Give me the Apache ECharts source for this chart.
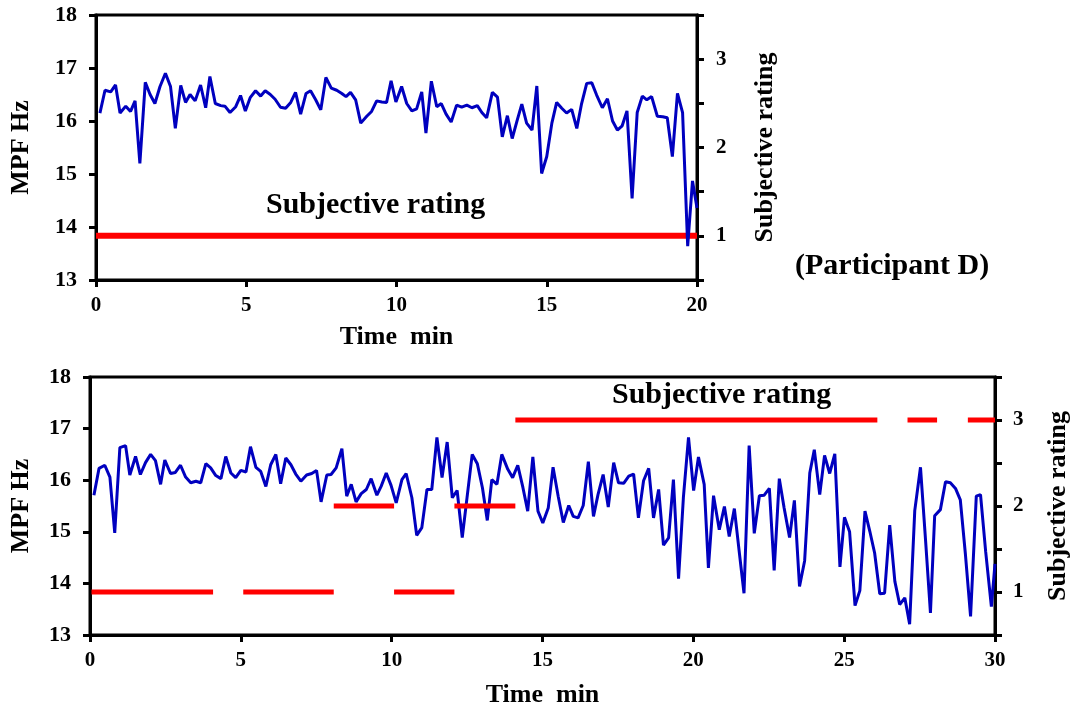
<!DOCTYPE html>
<html>
<head>
<meta charset="utf-8">
<script src="https://cdn.jsdelivr.net/npm/echarts@6/dist/echarts.min.js"></script>
<style>
html,body{margin:0;padding:0;background:#fff;}
#chart{width:1071px;height:713px;}
</style>
</head>
<body>
<div id="chart"></div>
<script>
// ---- Data ----
const topTime = [0.13,0.3,0.49,0.65,0.8,0.99,1.15,1.3,1.46,1.64,
1.8,1.96,2.13,2.31,2.48,2.64,2.82,2.98,3.13,3.3,
3.48,3.65,3.79,3.97,4.15,4.29,4.46,4.65,4.81,4.97,
5.13,5.31,5.48,5.63,5.8,5.96,6.14,6.31,6.48,6.64,
6.81,6.99,7.14,7.31,7.48,7.65,7.83,8.01,8.18,8.32,
8.47,8.64,8.81,9.01,9.17,9.34,9.51,9.67,9.82,9.98,
10.17,10.34,10.51,10.67,10.84,10.98,11.16,11.34,11.49,11.65,
11.82,12.0,12.17,12.34,12.51,12.69,12.84,13.0,13.19,13.36,
13.52,13.69,13.85,14.02,14.17,14.33,14.51,14.67,14.83,15.0,
15.17,15.33,15.5,15.66,15.83,16.0,16.16,16.33,16.5,16.66,
16.85,17.02,17.19,17.35,17.51,17.67,17.84,18.01,18.18,18.33,
18.49,18.68,18.86,19.01,19.18,19.35,19.52,19.69,19.85,20.0];
const topMPF = [16.15,16.58,16.55,16.68,16.15,16.28,16.18,16.38,15.2,16.73,
16.5,16.33,16.65,16.9,16.65,15.86,16.67,16.35,16.5,16.38,
16.68,16.25,16.84,16.33,16.29,16.28,16.16,16.27,16.48,16.19,
16.44,16.57,16.47,16.57,16.5,16.41,16.26,16.24,16.35,16.54,
16.13,16.52,16.57,16.4,16.21,16.82,16.62,16.58,16.52,16.46,
16.54,16.4,15.96,16.09,16.18,16.38,16.36,16.35,16.76,16.36,
16.65,16.33,16.19,16.23,16.55,15.77,16.75,16.27,16.33,16.13,
15.98,16.3,16.26,16.3,16.25,16.29,16.16,16.06,16.54,16.45,
15.7,16.1,15.67,16.02,16.32,15.96,15.83,16.66,15.01,15.33,
15.96,16.35,16.24,16.15,16.22,15.86,16.33,16.71,16.72,16.49,
16.25,16.42,16.0,15.83,15.91,16.19,14.54,16.16,16.47,16.4,
16.46,16.09,16.08,16.06,15.33,16.52,16.16,13.64,14.87,14.36];

const bottomTime = [0.13,0.3,0.49,0.66,0.82,0.99,1.18,1.32,1.51,1.67,
1.84,2.01,2.17,2.34,2.48,2.67,2.83,3.0,3.17,3.34,
3.51,3.67,3.84,4.0,4.17,4.34,4.5,4.67,4.83,5.0,
5.17,5.32,5.5,5.66,5.83,5.99,6.16,6.32,6.49,6.66,
6.82,6.99,7.18,7.35,7.51,7.66,7.85,7.99,8.16,8.35,
8.51,8.66,8.82,8.99,9.16,9.32,9.51,9.65,9.82,9.98,
10.15,10.34,10.48,10.67,10.83,11.0,11.17,11.33,11.5,11.67,
11.84,12.01,12.17,12.34,12.51,12.67,12.84,13.01,13.17,13.32,
13.49,13.65,13.85,14.01,14.18,14.35,14.51,14.68,14.85,15.01,
15.19,15.35,15.52,15.69,15.87,16.02,16.18,16.35,16.52,16.69,
16.84,17.01,17.18,17.36,17.52,17.69,17.86,18.02,18.18,18.35,
18.52,18.68,18.85,19.01,19.18,19.34,19.51,19.67,19.84,20.01,
20.17,20.36,20.5,20.67,20.86,21.03,21.19,21.36,21.52,21.68,
21.85,22.02,22.19,22.35,22.52,22.68,22.85,23.01,23.19,23.35,
23.52,23.69,23.86,24.01,24.19,24.35,24.52,24.69,24.86,25.01,
25.18,25.36,25.52,25.69,25.85,26.01,26.18,26.34,26.51,26.68,
26.84,27.01,27.17,27.34,27.53,27.7,27.86,28.0,28.19,28.36,
28.52,28.69,28.85,29.02,29.19,29.38,29.52,29.69,29.88,30.0];
const bottomMPF = [15.71,16.23,16.29,16.06,14.98,16.63,16.67,16.1,16.46,16.11,
16.34,16.5,16.38,15.92,16.39,16.13,16.15,16.29,16.06,15.95,
15.98,15.95,16.32,16.24,16.09,16.03,16.46,16.14,16.05,16.19,
16.16,16.65,16.25,16.17,15.88,16.3,16.5,15.93,16.43,16.3,
16.12,15.98,16.1,16.13,16.19,15.58,16.1,16.11,16.24,16.61,
15.69,15.92,15.58,15.74,15.82,16.03,15.71,15.88,16.14,15.9,
15.56,16.01,16.13,15.66,14.93,15.08,15.82,15.82,16.83,16.05,
16.74,15.66,15.8,14.89,15.72,16.5,16.32,15.85,15.22,16.01,
15.92,16.5,16.21,16.05,16.29,15.86,15.4,16.45,15.4,15.17,
15.46,16.25,15.69,15.18,15.51,15.3,15.27,15.51,16.36,15.3,
15.72,16.11,15.48,16.34,15.95,15.94,16.08,16.12,15.27,15.99,
16.23,15.27,15.82,14.74,14.88,16.01,14.09,15.66,16.83,15.8,
16.45,15.92,14.3,15.7,15.04,15.49,14.91,15.45,14.62,13.81,
16.67,14.97,15.7,15.71,15.84,14.25,16.03,15.46,14.89,15.61,
13.94,14.44,16.14,16.59,15.72,16.48,16.13,16.51,14.32,15.28,
15.0,13.57,13.86,15.4,15.01,14.59,13.8,13.81,15.13,14.04,
13.59,13.72,13.21,15.41,16.25,14.82,13.43,15.31,15.43,15.97,
15.95,15.84,15.62,14.56,13.36,15.69,15.72,14.62,13.55,14.38];

// Subjective rating segments (start time, end time, rating)
const topRatingStart = [0];
const topRatingEnd = [20];
const topRatingValue = [1];
const bottomRatingStart = [0.05, 5.08, 8.08, 10.08, 12.08, 14.1, 27.1, 29.1];
const bottomRatingEnd   = [4.08, 8.08, 10.08, 12.08, 14.1, 26.1, 28.08, 30];
const bottomRatingValue = [1, 1, 2, 1, 2, 3, 3, 3];

const topXTicks = {min: 0, max: 20, interval: 5};
const bottomXTicks = {min: 0, max: 30, interval: 5};
const mpfTicks = {min: 13, max: 18, interval: 1};
const ratingTicks = {min: 0.5, max: 3.5, interval: 0.5};

// ---- Styling ----
const FONT = '"Liberation Serif", "Times New Roman", serif';
const BLUE = '#0000BF';
const RED = '#FF0000';

function xAxis(gridIndex, ticks, gap) {
  return {
    type: 'value', gridIndex, min: ticks.min, max: ticks.max, interval: ticks.interval,
    name: 'Time  min', nameLocation: 'middle', nameGap: gap,
    nameTextStyle: {fontFamily: FONT, fontWeight: 'bold', fontSize: 26, color: '#000'},
    axisLine: {show: true, onZero: false, lineStyle: {color: '#000', width: 3}},
    axisTick: {show: true, inside: false, length: 7, lineStyle: {color: '#000', width: 3}},
    axisLabel: {fontFamily: FONT, fontWeight: 'bold', fontSize: 21, color: '#000', margin: 15},
    splitLine: {show: false}
  };
}
function yLeft(gridIndex, gap) {
  return {
    type: 'value', gridIndex, position: 'left', min: mpfTicks.min, max: mpfTicks.max, interval: mpfTicks.interval,
    name: 'MPF Hz', nameLocation: 'middle', nameGap: gap,
    nameTextStyle: {fontFamily: FONT, fontWeight: 'bold', fontSize: 26, color: '#000'},
    axisLine: {show: true, onZero: false, lineStyle: {color: '#000', width: 3}},
    axisTick: {show: true, inside: false, length: 7, lineStyle: {color: '#000', width: 3}},
    axisLabel: {fontFamily: FONT, fontWeight: 'bold', fontSize: 22, color: '#000', margin: 19},
    splitLine: {show: false}
  };
}
function yRight(gridIndex, gap, margin) {
  return {
    type: 'value', gridIndex, position: 'right', min: ratingTicks.min, max: ratingTicks.max, interval: ratingTicks.interval,
    name: 'Subjective rating', nameLocation: 'middle', nameGap: gap,
    nameTextStyle: {fontFamily: FONT, fontWeight: 'bold', fontSize: 26, color: '#000'},
    axisLine: {show: true, onZero: false, lineStyle: {color: '#000', width: 3}},
    axisTick: {show: true, inside: false, length: 7, lineStyle: {color: '#000', width: 3}},
    axisLabel: {fontFamily: FONT, fontWeight: 'bold', fontSize: 21, color: '#000', margin: margin,
      formatter: v => (Math.abs(v - Math.round(v)) < 1e-9 ? String(Math.round(v)) : '')},
    splitLine: {show: false}
  };
}

const series = [];
series.push({
  type: 'line', xAxisIndex: 0, yAxisIndex: 0, z: 4,
  data: topTime.map((t, i) => [t, topMPF[i]]),
  showSymbol: false, symbol: 'none', lineStyle: {color: BLUE, width: 3}
});
for (let i = 0; i < topRatingStart.length; i++) {
  series.push({
    type: 'line', xAxisIndex: 0, yAxisIndex: 1, z: 3,
    data: [[topRatingStart[i], topRatingValue[i]], [topRatingEnd[i], topRatingValue[i]]],
    showSymbol: false, symbol: 'none', lineStyle: {color: RED, width: 6, cap: 'butt'}
  });
}
series.push({
  type: 'line', xAxisIndex: 1, yAxisIndex: 2, z: 3,
  data: bottomTime.map((t, i) => [t, bottomMPF[i]]),
  showSymbol: false, symbol: 'none', lineStyle: {color: BLUE, width: 3}
});
for (let i = 0; i < bottomRatingStart.length; i++) {
  series.push({
    type: 'line', xAxisIndex: 1, yAxisIndex: 3, z: 4,
    data: [[bottomRatingStart[i], bottomRatingValue[i]], [bottomRatingEnd[i], bottomRatingValue[i]]],
    showSymbol: false, symbol: 'none', lineStyle: {color: RED, width: 5, cap: 'butt'}
  });
}

const chart = echarts.init(document.getElementById('chart'), null, {renderer: 'canvas'});
chart.setOption({
  animation: false,
  backgroundColor: '#fff',
  grid: [
    {left: 96, top: 15, width: 601, height: 265, show: true, borderColor: '#000', borderWidth: 3,
     containLabel: false, outerBoundsMode: 'none'},
    {left: 90, top: 377, width: 905, height: 258, show: true, borderColor: '#000', borderWidth: 3,
     containLabel: false, outerBoundsMode: 'none'}
  ],
  xAxis: [xAxis(0, topXTicks, 44), xAxis(1, bottomXTicks, 47)],
  yAxis: [yLeft(0, 62), yRight(0, 55, 19), yLeft(1, 56), yRight(1, 50, 18)],
  graphic: [
    {type: 'text', left: 266, top: 190, style: {text: 'Subjective rating', font: 'bold 30px ' + FONT, fill: '#000'}},
    {type: 'text', left: 612, top: 380, style: {text: 'Subjective rating', font: 'bold 30px ' + FONT, fill: '#000'}},
    {type: 'text', left: 795, top: 251, style: {text: '(Participant D)', font: 'bold 30px ' + FONT, fill: '#000'}}
  ],
  series
});
</script>
</body>
</html>
